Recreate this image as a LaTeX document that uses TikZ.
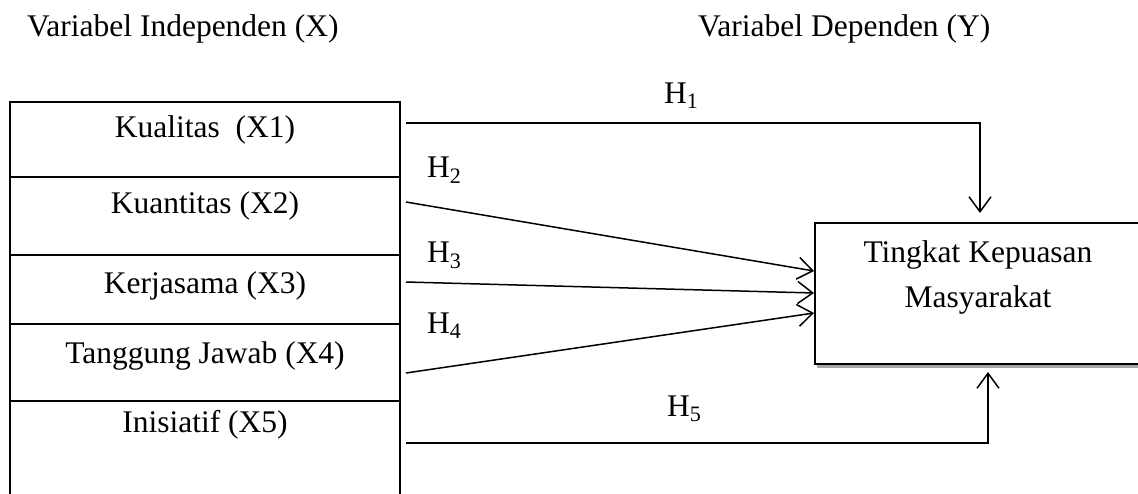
\documentclass[tikz,border=0pt]{standalone}
\usepackage{fontspec}
\setmainfont{Liberation Serif}
\usetikzlibrary{arrows.meta,shadows}
\begin{document}
\begin{tikzpicture}[x=1pt,y=-1pt,
  every node/.style={font=\fontsize{31.5}{40}\selectfont, inner sep=0pt},
  txt/.style={anchor=base},
  frame/.style={line width=2pt},
  arr/.style={line width=1.5pt, -{Straight Barb[length=15pt,width=22pt,line width=1.5pt]}},
  depbox/.style={draw, line width=2pt, fill=white, minimum width=330pt, minimum height=141pt,
     drop shadow={shadow xshift=2pt, shadow yshift=-4pt, fill=black, opacity=0.35}}
]
\useasboundingbox (0,0) rectangle (1138,493);
\clip (0,0) rectangle (1138,493);
\fill[white] (0,0) rectangle (1138,493);

% headers
\node[anchor=base west] (hx) at (27,36) {Variabel Independen (X)};
\node[anchor=base west] (hy) at (698,36) {Variabel Dependen (Y)};

% left column frame
\draw[frame] (10,500) -- (10,102) -- (400,102) -- (400,500);
\foreach \yy in {177,255,324,401} \draw[frame] (10,\yy) -- (400,\yy);

\node[txt] (x1) at (205,137) {Kualitas\ \ (X1)};
\node[txt] (x2) at (205,213) {Kuantitas (X2)};
\node[txt] (x3) at (205,293) {Kerjasama (X3)};
\node[txt] (x4) at (205,363) {Tanggung Jawab (X4)};
\node[txt] (x5) at (205,432) {Inisiatif (X5)};

% dependent box
\node[depbox] (Y) at (980,293.5) {};
\node[txt] (y1) at (978,262) {Tingkat Kepuasan};
\node[txt] (y2) at (978,307) {Masyarakat};

% connector end points
\coordinate (s1) at (406,123);
\coordinate (s2) at (406,202);
\coordinate (s3) at (406,282);
\coordinate (s4) at (406,373);
\coordinate (s5) at (406,443);
\coordinate (e1) at (980,213);
\coordinate (e2) at (Y.west |- 0,271);
\coordinate (e3) at (Y.west |- 0,293);
\coordinate (e4) at (Y.west |- 0,313);
\coordinate (e5) at (988,372);

\draw[arr] (s1) -| (e1);
\draw[arr] (s2) -- (e2);
\draw[arr] (s3) -- (e3);
\draw[arr] (s4) -- (e4);
\draw[arr] (s5) -| (e5);

% labels
\node[anchor=base west] (h1) at (664,103) {H\textsubscript{1}};
\node[anchor=base west] (h2) at (427,177) {H\textsubscript{2}};
\node[anchor=base west] (h3) at (427,262) {H\textsubscript{3}};
\node[anchor=base west] (h4) at (427,333) {H\textsubscript{4}};
\node[anchor=base west] (h5) at (667,416) {H\textsubscript{5}};
\end{tikzpicture}
\end{document}
